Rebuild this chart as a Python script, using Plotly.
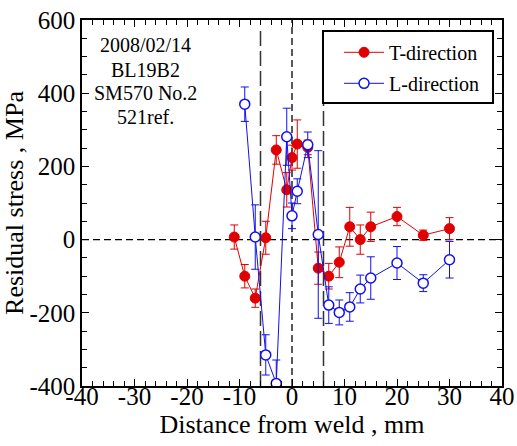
import plotly.graph_objects as go

# ---- data ----
t_x = [-11, -9, -7, -5, -3, -1, 0, 1, 3, 5, 7, 9, 11, 13, 15, 20, 25, 30]
t_y = [7, -100, -160, 5, 245, 136, 224, 261, 252, -78, -100, -62, 35, 0, 35, 63, 12, 30]
t_err = [33, 32, 25, 45, 39, 47, 34, 66, 20, 44, 35, 42, 53, 40, 40, 25, 14, 30]

l_x = [-9, -7, -5, -3, -1, 0, 1, 3, 5, 7, 9, 11, 13, 15, 20, 25, 30]
l_y = [370, 7, -315, -393, 281, 65, 132, 259, 14, -179, -199, -184, -135, -105, -64, -119, -55]
l_err = [47, 88, 55, 64, 78, 35, 34, 35, 229, 50, 34, 39, 38, 58, 45, 23, 50]

x_ticks = [-40, -30, -20, -10, 0, 10, 20, 30, 40]
x_ticktext = ["-40", "-30", "-20", "-10", "0", "10", "20", "30", "40"]
y_ticks = [-400, -200, 0, 200, 400, 600]
y_ticktext = ["-400", "-200", "0", "200", "400", "600"]

info_lines = ["2008/02/14", "BL19B2", "SM570 No.2", "521ref."]
weld_lines = [-6, 6]

RED = "#e00000"
BLUE = "#1010f0"
FONT = "Liberation Serif"

fig = go.Figure()

fig.add_trace(go.Scatter(
    x=t_x, y=t_y, name="T-direction", mode="lines+markers",
    line=dict(color=RED, width=1),
    marker=dict(symbol="circle", size=10, color=RED, line=dict(color=RED, width=1)),
    error_y=dict(type="data", array=t_err, visible=True, color=RED, thickness=1, width=4),
    legendgroup="t",
))
fig.add_trace(go.Scatter(
    x=l_x, y=l_y, name="L-direction", mode="lines+markers",
    line=dict(color=BLUE, width=1),
    marker=dict(symbol="circle", size=10, color="white", line=dict(color=BLUE, width=1.5)),
    error_y=dict(type="data", array=l_err, visible=True, color=BLUE, thickness=1, width=4),
    legendgroup="l",
))

# reference lines
fig.add_shape(type="line", x0=-40, x1=40, y0=0, y1=0, xref="x", yref="y",
              line=dict(color="black", width=1.3, dash="7px,4px"), layer="below")
fig.add_shape(type="line", x0=0, x1=0, y0=-400, y1=600, xref="x", yref="y",
              line=dict(color="black", width=1.3, dash="7px,4px"), layer="below")
for wx in weld_lines:
    fig.add_shape(type="line", x0=wx, x1=wx, y0=-400, y1=580, xref="x", yref="y",
                  line=dict(color="#333333", width=1.5, dash="15px,5px"), layer="below")

# legend frame
fig.add_shape(type="rect", xref="paper", yref="paper",
              x0=0.5738, x1=0.9786, y0=0.773, y1=0.970,
              line=dict(color="black", width=2), fillcolor="white", layer="above")

# info text
info_y = [0.932, 0.863, 0.800, 0.735]
for txt, yy in zip(info_lines, info_y):
    fig.add_annotation(text=txt, x=0.15, y=yy, xref="paper", yref="paper",
                       showarrow=False, xanchor="center", yanchor="middle",
                       font=dict(family=FONT, size=20, color="black"))

axis_common = dict(
    showline=True, linecolor="black", linewidth=1.5, mirror="ticks",
    ticks="inside", ticklen=7, tickwidth=1, tickcolor="black",
    showgrid=False, zeroline=False, automargin=False,
    tickfont=dict(family=FONT, size=25, color="black"),
)

fig.update_xaxes(
    range=[-40, 40], tickvals=x_ticks, ticktext=x_ticktext,
    minor=dict(dtick=2, ticks="inside", ticklen=5, tickcolor="black", showgrid=False),
    title=dict(text="Distance from weld , mm", font=dict(family=FONT, size=26, color="black"), standoff=2),
    ticklabelstandoff=-13,
    **axis_common,
)
fig.update_yaxes(
    range=[-400, 600], tickvals=y_ticks, ticktext=y_ticktext,
    minor=dict(dtick=50, ticks="inside", ticklen=5, tickcolor="black", showgrid=False),
    title=dict(text="Residual stress , MPa", font=dict(family=FONT, size=26, color="black"), standoff=4),
    ticklabelstandoff=0,
    **axis_common,
)

fig.update_layout(
    width=517, height=446,
    margin=dict(l=82, r=15, t=20, b=60, autoexpand=False),
    paper_bgcolor="white", plot_bgcolor="white",
    font=dict(family=FONT, color="black"),
    legend=dict(
        x=0.612, y=0.965, xanchor="left", yanchor="top",
        bgcolor="rgba(0,0,0,0)", borderwidth=0,
        font=dict(family=FONT, size=20),
        traceorder="grouped", tracegroupgap=2,
        itemwidth=40,
    ),
)

fig.write_html("out.html")
